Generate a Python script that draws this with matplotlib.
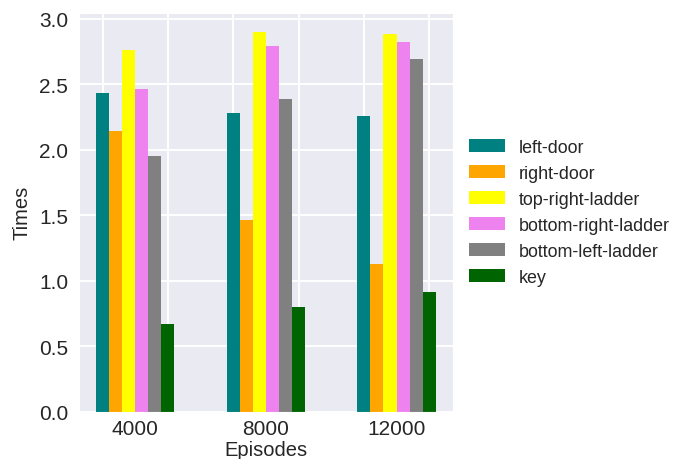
import numpy as np
import matplotlib
matplotlib.use("Agg")
import matplotlib.pyplot as plt
from matplotlib.ticker import MultipleLocator, FixedLocator, NullFormatter, FixedFormatter
import seaborn as sns

# data
episodes = ["4000", "8000", "12000"]
series_names = ["left-door", "right-door", "top-right-ladder",
                "bottom-right-ladder", "bottom-left-ladder", "key"]
left_door = [2.43, 2.28, 2.26]
right_door = [2.14, 1.46, 1.13]
top_right_ladder = [2.76, 2.90, 2.88]
bottom_right_ladder = [2.46, 2.79, 2.82]
bottom_left_ladder = [1.95, 2.39, 2.69]
key = [0.67, 0.80, 0.91]
colors = ["teal", "orange", "yellow", "violet", "gray", "darkgreen"]

sns.set_style("darkgrid")
plt.rcParams["font.family"] = ["Liberation Sans", "DejaVu Sans"]
plt.rcParams["grid.linewidth"] = 1.4

fig = plt.figure(figsize=(6.88, 4.60), dpi=100)
ax = fig.add_axes([0.115, 0.103, 0.543, 0.867])

ind = np.arange(len(episodes))
width = 0.1
all_series = [left_door, right_door, top_right_ladder,
              bottom_right_ladder, bottom_left_ladder, key]
for i, (vals, name, c) in enumerate(zip(all_series, series_names, colors)):
    ax.bar(ind + i * width, vals, width, color=c, label=name,
           edgecolor="none", linewidth=0)

# grid follows the bar positions, labels sit at group centres
ax.xaxis.set_major_locator(MultipleLocator(0.5))
ax.xaxis.set_major_formatter(NullFormatter())
ax.xaxis.set_minor_locator(FixedLocator(ind + 2.5 * width))
ax.xaxis.set_minor_formatter(FixedFormatter(episodes))
ax.tick_params(axis="x", which="both", length=0, labelsize=15, pad=5)
ax.tick_params(axis="y", length=0, labelsize=15, pad=8)

ax.set_xlabel("Episodes", fontsize=14.5, labelpad=2)
ax.set_ylabel("Times", fontsize=14.5, labelpad=5)

ax.legend(loc="center left", bbox_to_anchor=(1.0, 0.5), frameon=False,
          fontsize=12.9)

fig.savefig("out.png", dpi=100)
